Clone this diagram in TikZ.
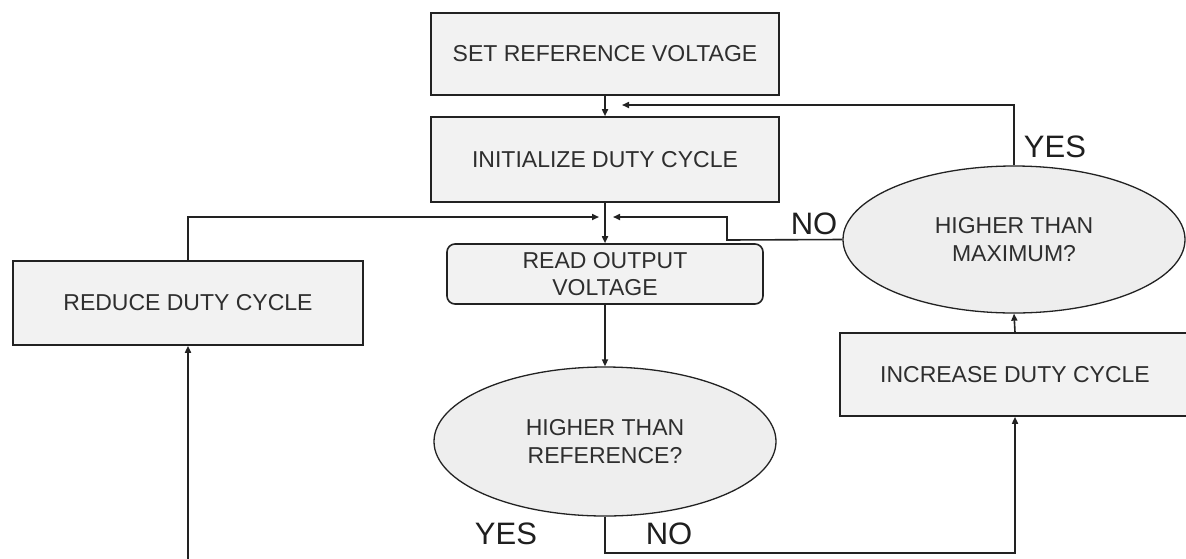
\documentclass[tikz,border=0pt]{standalone}
\usepackage{fontspec}
\setmainfont{Liberation Sans}
\usetikzlibrary{shapes.geometric,arrows.meta}
\definecolor{boxfill}{HTML}{F2F2F2}
\definecolor{ellfill}{HTML}{EEEEEE}
\definecolor{linec}{HTML}{222222}
\definecolor{textc}{HTML}{2E2E2E}
\begin{document}
\begin{tikzpicture}[x=1pt,y=-1pt,
  every node/.style={inner sep=0pt, text=textc},
  stepbox/.style={draw=linec, line width=1.6pt, fill=boxfill, rectangle, align=center,
    font=\fontsize{23}{27.7}\selectfont},
  roundbox/.style={stepbox, rounded corners=8pt},
  decision/.style={draw=linec, line width=1.3pt, fill=ellfill, ellipse, align=center,
    font=\fontsize{23}{27.7}\selectfont},
  lbl/.style={font=\fontsize{31}{31}\selectfont, text=black!88},
  conn/.style={draw=linec, line width=1.6pt},
  arr/.style={conn, -{Triangle[length=7pt,width=6pt]}}
]
\useasboundingbox (0,0) rectangle (1186,558);
\clip (0,0) rectangle (1186,558);
\fill[white] (0,0) rectangle (1186,558);

\node[stepbox, minimum width=348pt, minimum height=82pt] (setref) at (605,54) {SET REFERENCE VOLTAGE};
\node[stepbox, minimum width=348pt, minimum height=85pt] (init) at (605,159.5) {INITIALIZE DUTY CYCLE};
\node[roundbox, minimum width=316pt, minimum height=60pt] (read) at (605,274) {READ OUTPUT\\VOLTAGE};
\node[decision, minimum width=342pt, minimum height=149pt] (ref) at (605,441.5) {HIGHER THAN\\REFERENCE?};
\node[stepbox, minimum width=350pt, minimum height=84pt] (reduce) at (188,303) {REDUCE DUTY CYCLE};
\node[decision, minimum width=342pt, minimum height=147pt] (max) at (1014,239.5) {HIGHER THAN\\MAXIMUM?};
\node[stepbox, minimum width=350pt, minimum height=83pt] (inc) at (1015,374.5) {INCREASE DUTY CYCLE};

\coordinate (t1) at (622,105);
\coordinate (t2) at (599,217);
\coordinate (t3) at (613,217);
\coordinate (k1) at (727,240);
\coordinate (k2) at (727,217);
\coordinate (b1) at (605,553);
\coordinate (bot) at (188,570);

\draw[arr] (setref.south) -- (init.north);
\draw[arr] (init.south) -- (read.north);
\draw[arr] (read.south) -- (ref.north);
\draw[arr] (max.north) |- (t1);
\draw[arr] (reduce.north) |- (t2);
\draw[arr] (max.west) -- (k1) -- (k2) -- (t3);
\draw[arr] (ref.south) -- (b1) -| (inc.south);
\draw[arr] (inc.north) -- (max.south);
\draw[arr] (bot) -- (reduce.south);

\node[lbl] (yes1) at (1055,147) {YES};
\node[lbl] (no1) at (814,224) {NO};
\node[lbl] (yes2) at (506,534) {YES};
\node[lbl] (no2) at (669,534) {NO};
\end{tikzpicture}
\end{document}
